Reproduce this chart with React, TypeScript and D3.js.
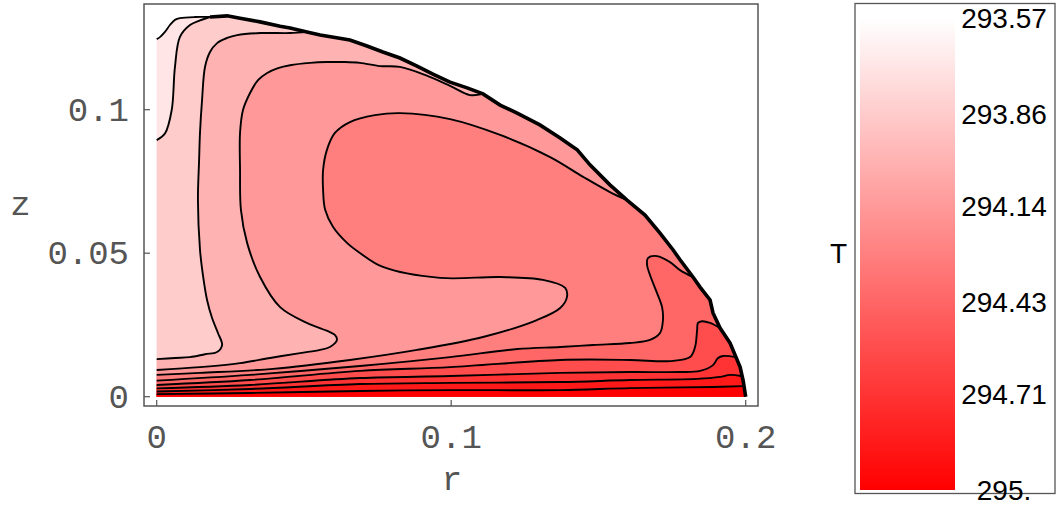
import React from "react";
import * as d3 from "d3";

type P = [number, number];

// axis ticks
const rTicks = [0, 0.1, 0.2];
const rTickLabels = ["0", "0.1", "0.2"];
const zTicks = [0, 0.05, 0.1];
const zTickLabels = ["0", "0.05", "0.1"];

// colour bar
const tMin = 293.57;
const tMax = 295;
const colorbarTicks = [293.57, 293.86, 294.14, 294.43, 294.71, 295];
const colorbarLabels = ["293.57", "293.86", "294.14", "294.43", "294.71", "295."];

// contour levels (coolest to hottest)
const contourLevels = [293.713, 293.856, 293.999, 294.142, 294.285, 294.428, 294.571, 294.714, 294.857];

// droplet free surface, from contact line (r=0.2, z=0) up to the axis
const dropletOutline: P[] = [
  [0.2, 0], [0.1991, 0.0058], [0.1981, 0.0103], [0.1967, 0.0138], [0.1947, 0.0187],
  [0.1913, 0.0239], [0.1889, 0.0292], [0.1879, 0.0337], [0.1845, 0.0382], [0.1821, 0.0417],
  [0.1777, 0.0477], [0.1753, 0.0512], [0.1709, 0.057], [0.1658, 0.0633], [0.1597, 0.0685],
  [0.1539, 0.0738], [0.1472, 0.0807], [0.1428, 0.086], [0.1404, 0.0877], [0.137, 0.0901],
  [0.1301, 0.0947], [0.1224, 0.0988], [0.1166, 0.1016], [0.1108, 0.1055], [0.1054, 0.1076],
  [0.0996, 0.1096], [0.0938, 0.1124], [0.0884, 0.1152], [0.0826, 0.118], [0.0768, 0.1201],
  [0.0714, 0.1222], [0.0656, 0.1243], [0.0555, 0.126], [0.051, 0.1271], [0.0453, 0.1285],
  [0.0419, 0.1291], [0.0351, 0.1306], [0.0283, 0.1319], [0.0239, 0.1327], [0.0181, 0.1323],
  [0.013, 0.1323], [0.0079, 0.1319], [0.0062, 0.1313], [0.0045, 0.1295], [0.0028, 0.1271],
  [0.0011, 0.1253], [0, 0.1246],
];

// contour lines, each from the axis r=0 to the free surface
const contour1: P[] = [
  [0, 0.0894], [0.0028, 0.0917], [0.0051, 0.0999], [0.0062, 0.1149], [0.0079, 0.1254],
  [0.0113, 0.1295], [0.0147, 0.1311], [0.0181, 0.1323],
];
const contour2: P[] = [
  [0, 0.0131], [0.0062, 0.0135], [0.0113, 0.0138], [0.0164, 0.0148], [0.0205, 0.0156],
  [0.0222, 0.018], [0.0208, 0.0222], [0.0188, 0.0274], [0.0171, 0.0337], [0.0157, 0.0424],
  [0.0147, 0.0512], [0.014, 0.0685], [0.0144, 0.0825], [0.0147, 0.0919], [0.0154, 0.1034],
  [0.0164, 0.1149], [0.0181, 0.1201], [0.0205, 0.1232], [0.0239, 0.125], [0.0273, 0.126],
  [0.0351, 0.1267], [0.0453, 0.1267], [0.051, 0.1271],
];
const contour3: P[] = [
  [0, 0.0093], [0.0147, 0.0103], [0.0283, 0.0117], [0.0385, 0.0135], [0.0487, 0.0152],
  [0.0555, 0.0163], [0.0588, 0.0173], [0.0612, 0.0198], [0.0605, 0.0215], [0.0588, 0.0225],
  [0.051, 0.0257], [0.0419, 0.0312], [0.0351, 0.0417], [0.0307, 0.0536], [0.0286, 0.0651],
  [0.0283, 0.079], [0.0283, 0.0919], [0.0293, 0.0999], [0.0317, 0.1058], [0.0344, 0.1103],
  [0.0375, 0.1128], [0.0412, 0.1145], [0.0453, 0.1155], [0.0521, 0.1163], [0.0578, 0.1166],
  [0.0639, 0.1166], [0.069, 0.1163], [0.0758, 0.1152], [0.0826, 0.1149], [0.0911, 0.1121],
  [0.0996, 0.1083], [0.1064, 0.1051], [0.1108, 0.1055],
];
const contour4: P[] = [
  [0, 0.0076], [0.0147, 0.0083], [0.0395, 0.0097], [0.0656, 0.0128], [0.0884, 0.0163],
  [0.1108, 0.0208], [0.1291, 0.0267], [0.137, 0.0309], [0.1393, 0.0347], [0.1387, 0.0379],
  [0.1312, 0.0407], [0.1166, 0.0417], [0.0962, 0.0414], [0.0768, 0.0452], [0.069, 0.0501],
  [0.0646, 0.0536], [0.0599, 0.0591], [0.0572, 0.0651], [0.0565, 0.072], [0.0565, 0.079],
  [0.0578, 0.086], [0.0605, 0.0919], [0.0656, 0.0957], [0.0741, 0.0981], [0.0826, 0.0988],
  [0.0996, 0.0967], [0.1166, 0.0912], [0.1336, 0.0835], [0.1448, 0.0766], [0.1539, 0.0713],
  [0.1597, 0.0685],
];
const contour5: P[] = [
  [0, 0.0056], [0.0317, 0.0076], [0.069, 0.0107], [0.0996, 0.0138], [0.1224, 0.0166],
  [0.137, 0.0173], [0.1482, 0.018], [0.1607, 0.0187], [0.1675, 0.0198], [0.1709, 0.0222],
  [0.1719, 0.0267], [0.1716, 0.0312], [0.1699, 0.0361], [0.1675, 0.0424], [0.1665, 0.0459],
  [0.1668, 0.0483], [0.1699, 0.049], [0.1743, 0.0469], [0.1777, 0.0441], [0.1821, 0.0417],
];
const contour6: P[] = [
  [0, 0.0041], [0.0317, 0.0058], [0.069, 0.009], [0.0996, 0.0103], [0.137, 0.0128],
  [0.1607, 0.0128], [0.1743, 0.0124], [0.1811, 0.0138], [0.1828, 0.0173], [0.1835, 0.0232],
  [0.1838, 0.0257], [0.1852, 0.0263], [0.1879, 0.0257], [0.1913, 0.0239],
];
const contour7: P[] = [
  [0, 0.0029], [0.0317, 0.0041], [0.069, 0.0065], [0.0996, 0.0072], [0.137, 0.0083],
  [0.1607, 0.0086], [0.1777, 0.0086], [0.1845, 0.009], [0.1889, 0.011], [0.1906, 0.0135],
  [0.1923, 0.0142], [0.1967, 0.0138],
];
const contour8: P[] = [
  [0, 0.0018], [0.0317, 0.0027], [0.069, 0.0044], [0.0996, 0.0048], [0.137, 0.0051],
  [0.1607, 0.0058], [0.1835, 0.0062], [0.1913, 0.0069], [0.1947, 0.0076], [0.1985, 0.0072],
];
const contour9: P[] = [
  [0, 0.0009], [0.0317, 0.0013], [0.069, 0.002], [0.0996, 0.0023], [0.137, 0.0023],
  [0.1607, 0.003], [0.1889, 0.0034], [0.1991, 0.0037],
];

const contours = [contour1, contour2, contour3, contour4, contour5, contour6, contour7, contour8, contour9];

const xS = d3.scaleLinear().domain([0, 0.2]).range([156.7, 745.7]);
const yS = d3.scaleLinear().domain([0, 0.1]).range([396.7, 109.7]);
const colorS = d3.scaleLinear<string>().domain([tMin, tMax]).range(["#ffffff", "#ff0000"]);
const cbY = d3.scaleLinear().domain([tMin, tMax]).range([18, 490]);

const smooth = d3
  .line<P>()
  .x((d) => xS(d[0]))
  .y((d) => yS(d[1]))
  .curve(d3.curveCatmullRom.alpha(0.5));
const straight = d3
  .line<P>()
  .x((d) => xS(d[0]))
  .y((d) => yS(d[1]));

function segDist(p: P, a: P, b: P) {
  const px = xS(p[0]), py = yS(p[1]);
  const ax = xS(a[0]), ay = yS(a[1]);
  const bx = xS(b[0]), by = yS(b[1]);
  const dx = bx - ax, dy = by - ay;
  const L = dx * dx + dy * dy || 1;
  let t = ((px - ax) * dx + (py - ay) * dy) / L;
  t = Math.max(0, Math.min(1, t));
  const qx = ax + t * dx, qy = ay + t * dy;
  return Math.hypot(px - qx, py - qy);
}

function hotSidePath(c: P[]) {
  const end = c[c.length - 1];
  let best = 0;
  let bestD = Infinity;
  for (let i = 0; i < dropletOutline.length - 1; i++) {
    const d = segDist(end, dropletOutline[i], dropletOutline[i + 1]);
    if (d < bestD) {
      bestD = d;
      best = i;
    }
  }
  const back = dropletOutline.slice(0, best + 1).reverse();
  back.push([0, 0]);
  const tail = back.map((p) => `L${xS(p[0])},${yS(p[1])}`).join("");
  return (smooth(c) as string) + tail + "Z";
}

const thinIdx = dropletOutline.findIndex((p) => p[0] === 0.0181);

export default function App() {
  const dropletPath = (straight([...dropletOutline, [0, 0]]) as string) + "Z";
  const mono = "'Liberation Mono', 'DejaVu Sans Mono', monospace";
  const sans = "'Liberation Sans', Arial, sans-serif";
  const frame = { left: 144, right: 758, top: 4, bottom: 406 };
  return (
    <svg
      width={1057}
      height={505}
      style={{ position: "absolute", left: 0, top: 0, display: "block", background: "#fff" }}
    >
      <defs>
        <linearGradient id="cbgrad" gradientUnits="userSpaceOnUse" x1={0} y1={cbY(tMin)} x2={0} y2={cbY(tMax)}>
          <stop offset="0" stopColor={colorS(tMin)} />
          <stop offset="1" stopColor={colorS(tMax)} />
        </linearGradient>
      </defs>

      {/* filled bands */}
      <path d={dropletPath} fill={colorS(contourLevels[0])} stroke="none" />
      {contours.map((c, i) => (
        <path
          key={"band" + i}
          d={hotSidePath(c)}
          fill={colorS(i + 1 < contourLevels.length ? contourLevels[i + 1] : tMax)}
          stroke="none"
        />
      ))}

      {/* contour lines */}
      {contours.map((c, i) => (
        <path key={"line" + i} d={smooth(c) as string} fill="none" stroke="#000" strokeWidth={1.9} />
      ))}

      {/* free surface */}
      <path
        d={straight(dropletOutline.slice(0, thinIdx + 1)) as string}
        fill="none"
        stroke="#000"
        strokeWidth={3.6}
        strokeLinejoin="miter"
      />
      <path
        d={smooth(dropletOutline.slice(thinIdx)) as string}
        fill="none"
        stroke="#000"
        strokeWidth={1.8}
      />

      {/* frame */}
      <rect
        x={frame.left}
        y={frame.top}
        width={frame.right - frame.left}
        height={frame.bottom - frame.top}
        fill="none"
        stroke="#555"
        strokeWidth={1.5}
      />
      {rTicks.map((t, i) => (
        <g key={"rt" + i}>
          <line x1={xS(t)} x2={xS(t)} y1={frame.bottom} y2={frame.bottom - 6} stroke="#555" strokeWidth={1.2} />
          <text x={xS(t)} y={448} textAnchor="middle" fontFamily={mono} fontSize={34} fill="#555">
            {rTickLabels[i]}
          </text>
        </g>
      ))}
      {zTicks.map((t, i) => (
        <g key={"zt" + i}>
          <line x1={frame.left} x2={frame.left + 6} y1={yS(t)} y2={yS(t)} stroke="#555" strokeWidth={1.2} />
          <text x={129} y={yS(t) + 11} textAnchor="end" fontFamily={mono} fontSize={34} fill="#555">
            {zTickLabels[i]}
          </text>
        </g>
      ))}
      <text x={452} y={490} textAnchor="middle" fontFamily={mono} fontSize={34} fill="#555">
        r
      </text>
      <text x={20.5} y={215} textAnchor="middle" fontFamily={mono} fontSize={34} fill="#555">
        z
      </text>

      {/* colour bar */}
      <rect x={855} y={3.5} width={200} height={490} fill="#fff" stroke="#555" strokeWidth={1.3} />
      <rect x={860} y={8} width={95} height={cbY(tMax) - 8} fill="url(#cbgrad)" />
      {colorbarTicks.map((t, i) => (
        <text key={"cb" + i} x={1004} y={cbY(t) + 10} textAnchor="middle" fontFamily={sans} fontSize={28} fill="#000">
          {colorbarLabels[i]}
        </text>
      ))}
      <text x={838.5} y={263} textAnchor="middle" fontFamily={sans} fontSize={28} fill="#000">
        T
      </text>
    </svg>
  );
}
